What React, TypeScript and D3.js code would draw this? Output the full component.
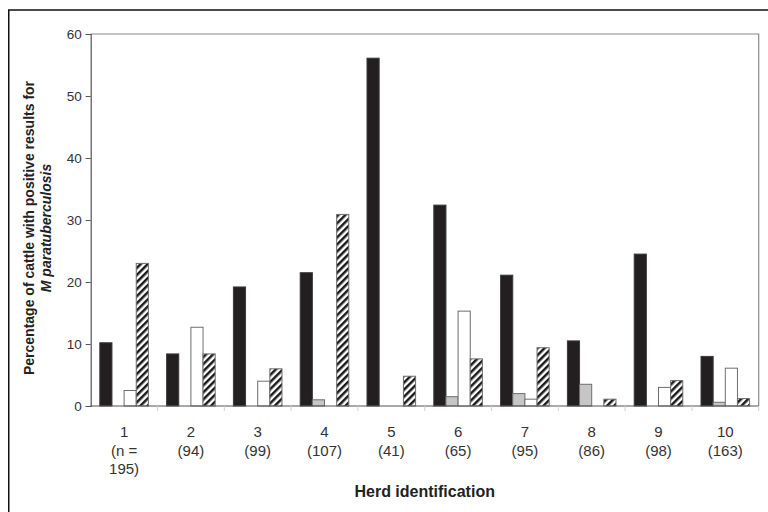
import { useEffect, useRef } from "react";
import * as d3 from "d3";

const herds = ["1", "2", "3", "4", "5", "6", "7", "8", "9", "10"];
const herdSizes = ["(n =|195)", "(94)", "(99)", "(107)", "(41)", "(65)", "(95)", "(86)", "(98)", "(163)"];

// four series per herd (percent)
const blackValues = [10.2, 8.4, 19.2, 21.5, 56.1, 32.4, 21.1, 10.5, 24.5, 8.0];
const grayValues = [0, 0, 0, 1.0, 0, 1.5, 2.0, 3.5, 0, 0.6];
const whiteValues = [2.5, 12.7, 4.0, 0, 0, 15.3, 1.1, 0, 3.0, 6.1];
const hatchValues = [23.0, 8.4, 6.0, 30.9, 4.8, 7.6, 9.4, 1.1, 4.1, 1.2];

const seriesKeys = ["black", "gray", "white", "hatch"];
const yTicks = [0, 10, 20, 30, 40, 50, 60];

const App = () => {
    const ref = useRef<SVGSVGElement>(null);

    useEffect(() => {
        const svg = d3.select(ref.current);
        svg.selectAll("*").remove();

        const left = 90.7;
        const right = 758.7;
        const top = 34;
        const bottom = 406;
        const font = "Arial, 'Liberation Sans', sans-serif";

        const fills: Record<string, string> = {
            black: "#231f20",
            gray: "#c6c6c6",
            white: "#ffffff",
            hatch: "url(#hatch)",
        };
        const valuesBy: Record<string, number[]> = {
            black: blackValues,
            gray: grayValues,
            white: whiteValues,
            hatch: hatchValues,
        };

        // hatch pattern
        const defs = svg.append("defs");
        const pat = defs.append("pattern")
            .attr("id", "hatch")
            .attr("patternUnits", "userSpaceOnUse")
            .attr("width", 5)
            .attr("height", 5)
            .attr("patternTransform", "rotate(45)");
        pat.append("rect").attr("width", 5).attr("height", 5).attr("fill", "#fff");
        pat.append("rect").attr("width", 2.5).attr("height", 5).attr("fill", "#1a1a1a");

        // outer frame
        svg.append("rect")
            .attr("x", 8.75)
            .attr("y", 10)
            .attr("width", 900)
            .attr("height", 700)
            .attr("fill", "none")
            .attr("stroke", "#111")
            .attr("stroke-width", 1.5);

        const x0 = d3.scaleBand().domain(herds).range([left, right]).padding(0);
        const x1 = d3.scaleBand().domain(seriesKeys).range([0, x0.bandwidth()]).paddingInner(0).paddingOuter(0.75);
        const y = d3.scaleLinear().domain([0, 60]).range([bottom, top]);

        // plot area border (top + right)
        svg.append("path")
            .attr("d", `M${left},${top}H${right}V${bottom}`)
            .attr("fill", "none")
            .attr("stroke", "#8a8a8a")
            .attr("stroke-width", 1.2);

        // bars
        seriesKeys.forEach((key) => {
            const vals = valuesBy[key];
            svg.append("g")
                .selectAll("rect")
                .data(herds.map((h, i) => ({ h, v: vals[i] })).filter(d => d.v > 0))
                .enter().append("rect")
                .attr("x", d => (x0(d.h) as number) + (x1(key) as number))
                .attr("width", x1.bandwidth())
                .attr("y", d => y(d.v))
                .attr("height", d => bottom - y(d.v))
                .attr("fill", fills[key])
                .attr("stroke", key === "black" ? "#3a3a3a" : "#6e6e6e")
                .attr("stroke-width", 1);
        });

        // y axis
        const yAxis = svg.append("g")
            .attr("transform", `translate(${left},0)`)
            .call(d3.axisLeft(y).tickValues(yTicks).tickSize(5).tickPadding(4));
        yAxis.select(".domain").attr("stroke", "#555").attr("stroke-width", 1.2);
        yAxis.selectAll(".tick line").attr("stroke", "#555");
        yAxis.selectAll("text")
            .attr("font-family", font)
            .attr("font-size", 13.5)
            .attr("fill", "#333");

        // x axis
        const xAxis = svg.append("g")
            .attr("transform", `translate(0,${bottom})`);
        xAxis.append("line")
            .attr("x1", left).attr("x2", right)
            .attr("stroke", "#555").attr("stroke-width", 1.2);
        xAxis.selectAll(".tk")
            .data(herds.slice(1).concat(["end"]))
            .enter().append("line")
            .attr("x1", (d, i) => left + (i + 1) * x0.step())
            .attr("x2", (d, i) => left + (i + 1) * x0.step())
            .attr("y1", 0).attr("y2", 5)
            .attr("stroke", "#cfcfcf");

        // category labels
        const labels = svg.append("g")
            .attr("font-family", font)
            .attr("font-size", 15)
            .attr("fill", "#333")
            .attr("text-anchor", "middle");
        herds.forEach((h, i) => {
            const lines = [h].concat(herdSizes[i].split("|"));
            const cx = (x0(h) as number) + x0.bandwidth() / 2;
            lines.forEach((ln, j) => {
                labels.append("text")
                    .attr("x", cx)
                    .attr("y", 437 + j * 18.5)
                    .text(ln);
            });
        });

        // axis titles
        svg.append("text")
            .attr("x", (left + right) / 2)
            .attr("y", 497)
            .attr("text-anchor", "middle")
            .attr("font-family", font)
            .attr("font-size", 16)
            .attr("font-weight", "bold")
            .attr("fill", "#222")
            .text("Herd identification");

        const yTitle = svg.append("text")
            .attr("transform", `translate(0,${(top + bottom) / 2 + 8}) rotate(-90)`)
            .attr("text-anchor", "middle")
            .attr("font-family", font)
            .attr("font-size", 14)
            .attr("font-weight", "bold")
            .attr("fill", "#222");
        yTitle.append("tspan")
            .attr("x", 0).attr("y", 34)
            .text("Percentage of cattle with positive results for");
        yTitle.append("tspan")
            .attr("x", 0).attr("y", 51)
            .attr("font-style", "italic")
            .text("M paratuberculosis");
    }, []);

    return (
        <svg
            ref={ref}
            width={768}
            height={512}
            style={{ position: "absolute", left: 0, top: 0, background: "#fff" }}
        />
    );
};

export default App;
